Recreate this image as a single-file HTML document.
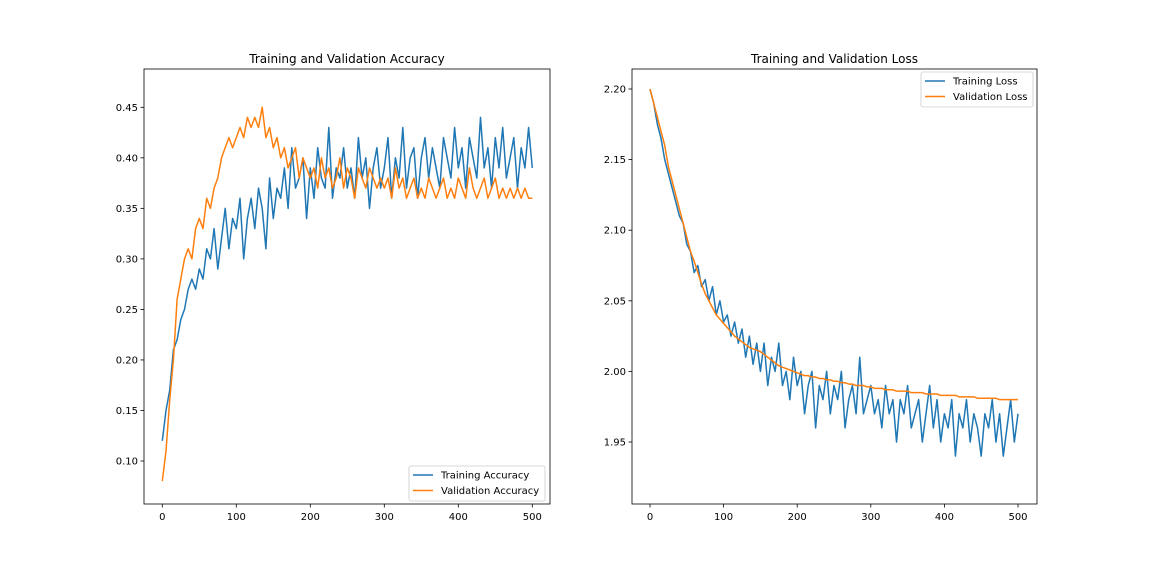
<!DOCTYPE html>
<html><head><meta charset="utf-8"><style>
html,body{margin:0;padding:0;background:#fff;}
svg{display:block;font-family:"DejaVu Sans","Liberation Sans",sans-serif;}
</style></head><body>
<svg id="fig" width="1152" height="576" xmlns="http://www.w3.org/2000/svg"></svg>
<script>
const epochs = Array.from({length:101},(_,i)=>i*5);
const trainAcc = [0.12,0.15,0.17,0.21,0.22,0.24,0.25,0.27,0.28,0.27,
0.29,0.28,0.31,0.30,0.33,0.29,0.32,0.35,0.31,0.34,
0.33,0.36,0.30,0.34,0.36,0.33,0.37,0.35,0.31,0.38,
0.34,0.37,0.36,0.39,0.35,0.41,0.37,0.38,0.40,0.34,
0.39,0.36,0.41,0.38,0.37,0.43,0.36,0.39,0.38,0.41,
0.37,0.39,0.36,0.42,0.38,0.40,0.35,0.39,0.41,0.37,
0.39,0.42,0.36,0.40,0.38,0.43,0.37,0.40,0.41,0.36,
0.40,0.42,0.38,0.41,0.39,0.37,0.42,0.40,0.38,0.43,
0.39,0.41,0.37,0.42,0.40,0.38,0.44,0.39,0.41,0.37,
0.42,0.39,0.43,0.38,0.40,0.42,0.37,0.41,0.39,0.43,0.39];
const valAcc = [0.08,0.11,0.16,0.20,0.26,0.28,0.30,0.31,0.30,0.33,
0.34,0.33,0.36,0.35,0.37,0.38,0.40,0.41,0.42,0.41,
0.42,0.43,0.42,0.44,0.43,0.44,0.43,0.45,0.42,0.43,
0.41,0.42,0.40,0.41,0.39,0.40,0.41,0.38,0.40,0.39,
0.38,0.39,0.37,0.40,0.38,0.39,0.37,0.38,0.40,0.37,
0.39,0.38,0.36,0.39,0.38,0.37,0.39,0.38,0.37,0.38,
0.37,0.38,0.36,0.39,0.37,0.38,0.36,0.37,0.38,0.36,
0.37,0.36,0.38,0.37,0.36,0.37,0.38,0.36,0.37,0.36,
0.38,0.37,0.36,0.39,0.37,0.36,0.37,0.38,0.36,0.37,
0.38,0.36,0.37,0.36,0.37,0.36,0.37,0.36,0.37,0.36,0.36];
const trainLoss = [2.20,2.19,2.175,2.165,2.15,2.14,2.13,2.12,2.11,2.105,
2.09,2.085,2.07,2.075,2.06,2.065,2.05,2.06,2.04,2.05,
2.035,2.04,2.025,2.035,2.02,2.03,2.01,2.025,2.005,2.02,
2.00,2.02,1.99,2.01,2.00,2.02,1.99,2.00,1.98,2.01,
1.99,2.00,1.97,1.99,2.00,1.96,1.99,1.98,2.00,1.97,
1.99,1.98,2.00,1.96,1.98,1.99,1.97,2.01,1.97,1.98,
1.99,1.97,1.98,1.96,1.99,1.97,1.98,1.95,1.98,1.97,
1.99,1.96,1.97,1.98,1.95,1.97,1.99,1.96,1.98,1.95,
1.97,1.96,1.98,1.94,1.97,1.96,1.98,1.95,1.97,1.96,
1.94,1.97,1.96,1.98,1.95,1.97,1.94,1.96,1.98,1.95,1.97];
const valLoss = [2.20,2.19,2.18,2.17,2.16,2.145,2.135,2.125,2.115,2.105,
2.095,2.085,2.078,2.07,2.062,2.055,2.05,2.045,2.04,2.037,
2.034,2.031,2.028,2.025,2.023,2.021,2.019,2.017,2.016,2.015,
2.014,2.012,2.01,2.008,2.006,2.004,2.003,2.002,2.001,2.0,
1.999,1.998,1.997,1.997,1.996,1.996,1.995,1.995,1.994,1.994,
1.993,1.993,1.992,1.992,1.991,1.991,1.99,1.99,1.99,1.989,
1.989,1.988,1.988,1.988,1.987,1.987,1.987,1.986,1.986,1.986,
1.986,1.985,1.985,1.985,1.985,1.984,1.984,1.984,1.984,1.983,
1.983,1.983,1.983,1.983,1.982,1.982,1.982,1.982,1.982,1.981,
1.981,1.981,1.981,1.981,1.981,1.98,1.98,1.98,1.98,1.98,1.98];
const xTicks = [0,100,200,300,400,500];
const accTicks = [0.10,0.15,0.20,0.25,0.30,0.35,0.40,0.45];
const lossTicks = [1.95,2.00,2.05,2.10,2.15,2.20];

const NS="http://www.w3.org/2000/svg";
const svg=document.getElementById('fig');
function mk(tag,attrs,parent){const e=document.createElementNS(NS,tag);for(const k in attrs)e.setAttribute(k,attrs[k]);(parent||svg).appendChild(e);return e;}

function panel(cfg){
  const g=mk('g',{});
  
  
  const xs=v=>cfg.x0+(v-0)*(cfg.x500-cfg.x0)/500;
  const ys=v=>cfg.yA+(v-cfg.vA)*(cfg.yB-cfg.yA)/(cfg.vB-cfg.vA);
  cfg.series.forEach(s=>{
    const d=s.vals.map((v,i)=>(i?'L':'M')+xs(epochs[i]).toFixed(2)+' '+ys(v).toFixed(2)).join(' ');
    const p=mk('path',{d:d,fill:'none',stroke:s.color,'stroke-width':1.5,'stroke-linejoin':'round'},g);
    
    
  });
  const fr=mk('rect',{x:cfg.L,y:cfg.T,width:cfg.R-cfg.L,height:cfg.B-cfg.T,fill:'none',stroke:'#000','stroke-width':0.8},g);
  
  
  xTicks.forEach(t=>{
    const x=xs(t);
    mk('line',{x1:x,x2:x,y1:cfg.B,y2:cfg.B+3.5,stroke:'#000','stroke-width':0.8},g);
    const tx=mk('text',{x:x,y:cfg.B+16,'font-size':10,'text-anchor':'middle',fill:'#000'},g);
    tx.textContent=t;
    
    
  });
  cfg.yticks.forEach(t=>{
    const y=ys(t);
    mk('line',{x1:cfg.L-3.5,x2:cfg.L,y1:y,y2:y,stroke:'#000','stroke-width':0.8},g);
    const tx=mk('text',{x:cfg.L-6,y:y+3.5,'font-size':10,'text-anchor':'end',fill:'#000'},g);
    tx.textContent=t.toFixed(2);
    
    
  });
  const ti=mk('text',{x:(cfg.L+cfg.R)/2,y:cfg.T-6,'font-size':12,'text-anchor':'middle',fill:'#000'},g);
  ti.textContent=cfg.title;
  
  
  const lg=mk('g',{},g);
  
  
  mk('rect',{x:cfg.lx,y:cfg.ly,width:cfg.lw,height:35,rx:2,fill:'#fff','fill-opacity':0.8,stroke:'#ccc','stroke-width':0.8},lg);
  cfg.series.forEach((s,i)=>{
    const yy=cfg.ly+9+i*15.5;
    const e=mk('g',{},lg);
    
    
    mk('line',{x1:cfg.lx+4,x2:cfg.lx+24,y1:yy,y2:yy,stroke:s.color,'stroke-width':1.5},e);
    const t=mk('text',{x:cfg.lx+32,y:yy+3.5,'font-size':10,fill:'#000'},e);
    t.textContent=s.label;
  });
}
panel({name:'accuracy-chart',title:'Training and Validation Accuracy',L:144,R:550,T:69,B:504,
  x0:162.3,x500:532.3,vA:0.45,yA:107.3,vB:0.10,yB:461,yticks:accTicks,lx:409,ly:466,lw:136,
  series:[{key:'training-accuracy-line',label:'Training Accuracy',color:'#1f77b4',vals:trainAcc},
          {key:'validation-accuracy-line',label:'Validation Accuracy',color:'#ff7f0e',vals:valAcc}]});
panel({name:'loss-chart',title:'Training and Validation Loss',L:632,R:1037,T:69,B:504,
  x0:650,x500:1018,vA:2.20,yA:89,vB:1.95,yB:442,yticks:lossTicks,lx:921,ly:72,lw:112,
  series:[{key:'training-loss-line',label:'Training Loss',color:'#1f77b4',vals:trainLoss},
          {key:'validation-loss-line',label:'Validation Loss',color:'#ff7f0e',vals:valLoss}]});
</script>
</body></html>
